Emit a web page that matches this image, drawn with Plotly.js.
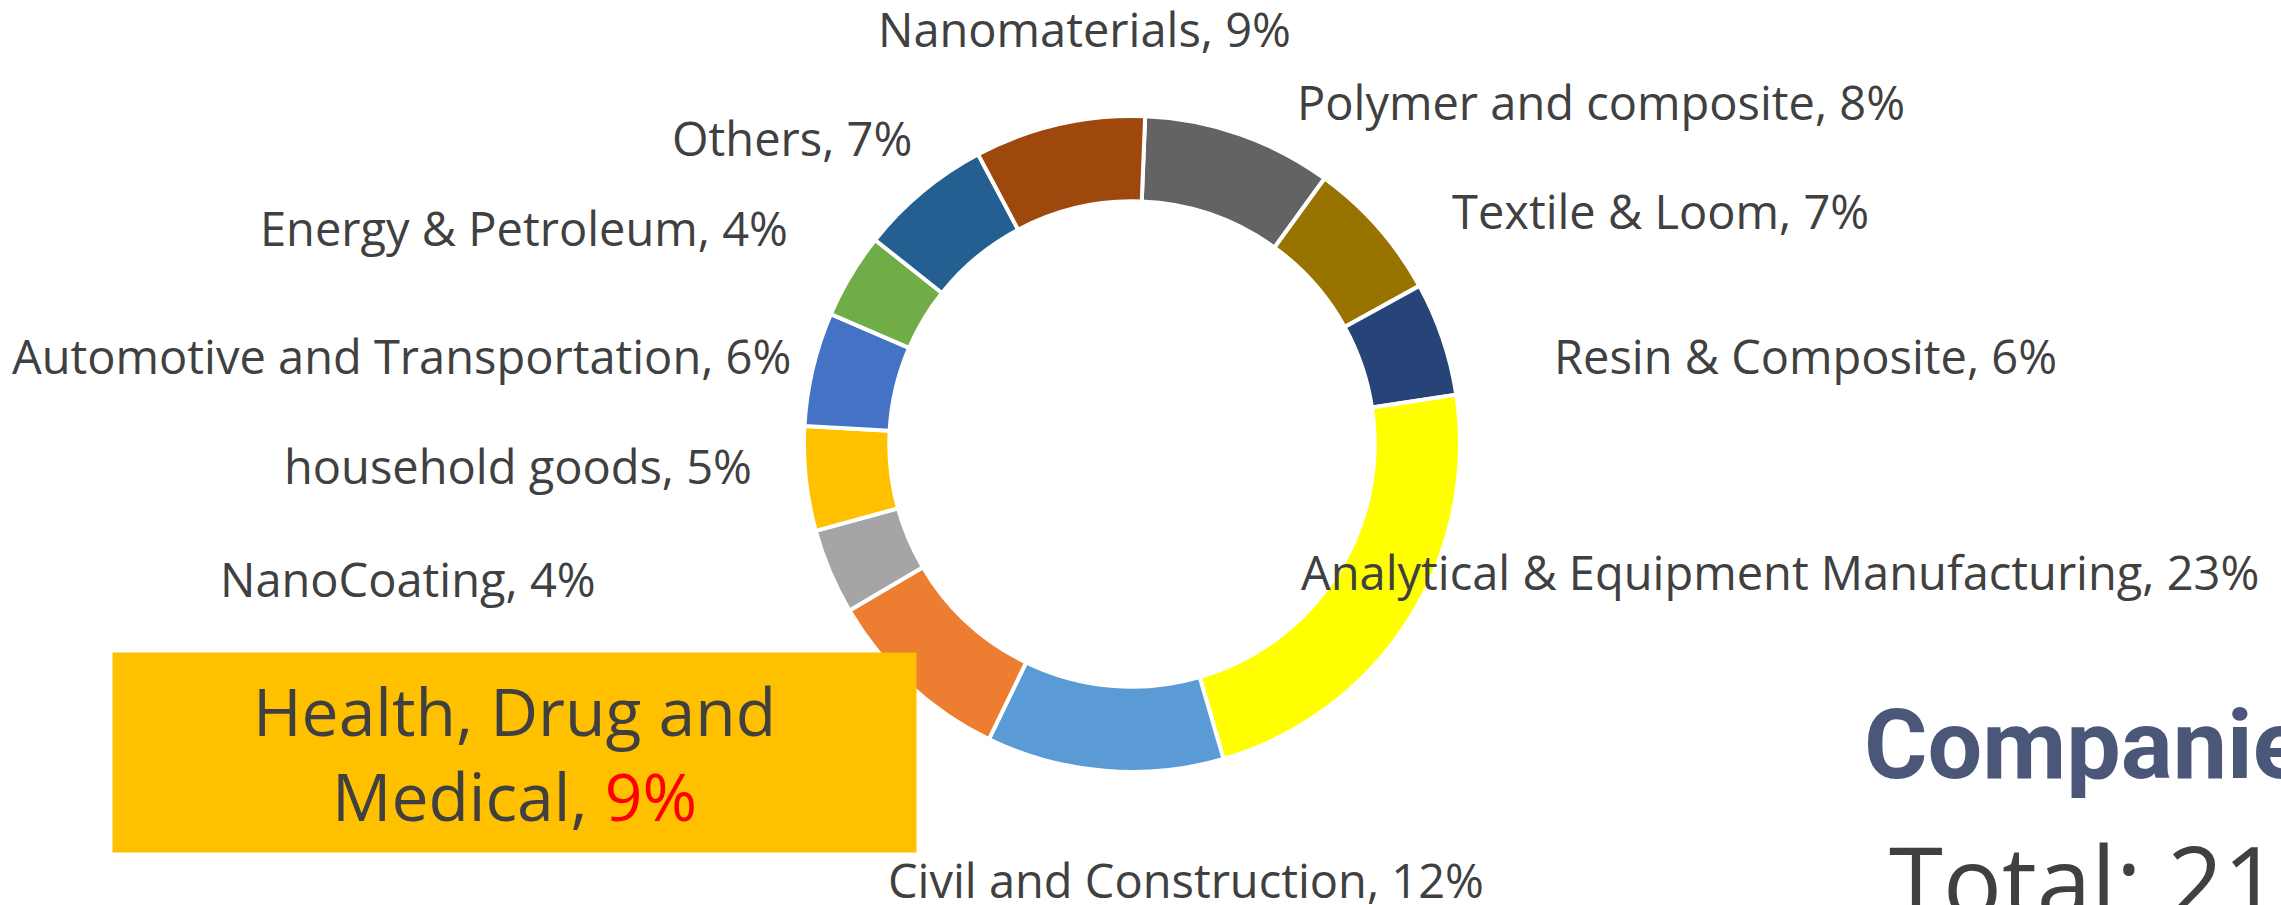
<!DOCTYPE html>
<html>
<head>
<meta charset="utf-8">
<script src="https://cdn.plot.ly/plotly-3.0.1.min.js"></script>
<style>
html,body{margin:0;padding:0;background:#fff;overflow:hidden;}
#chart{width:2281px;height:905px;}
</style>
</head>
<body>
<div id="chart"></div>
<script>
// ---- data ----
const categories = [
  "Polymer and composite",
  "Textile & Loom",
  "Resin & Composite",
  "Analytical & Equipment Manufacturing",
  "Civil and Construction",
  "Health, Drug and Medical",
  "NanoCoating",
  "household goods",
  "Automotive and Transportation",
  "Energy & Petroleum",
  "Others",
  "Nanomaterials"
];
// company counts (total 214)
const companies = [20, 15, 12, 49, 25, 20, 9, 11, 12, 9, 14, 18];
// percentages as printed on the chart's data labels
const shownPct = [8, 7, 6, 23, 12, 9, 4, 5, 6, 4, 7, 9];
const sliceColors = ["#636363","#997300","#264478","#FFFF00","#5B9BD5","#ED7D31",
                     "#A5A5A5","#FFC000","#4472C4","#70AD47","#255E91","#9E480E"];
const totalLabel = "Total: ";
const headerLabel = "Companies";

// ---- layout helpers (label placement, in page pixels) ----
const W = 2281, H = 905;
const labelPos = [
  [1601,102],[1660,211],[1805,356],[1780,572],[1186,880],[514,752],
  [408,579],[518,466],[401,356],[524,228],[792,138],[1084,29]
];
const px = x => x / W;
const py = y => (H - y) / H;

const total = companies.reduce((a,b)=>a+b,0);

const annotations = categories.map((c,i) => {
  if (i === 5) {
    const words = c.split(" and ");
    return {
      xref:'paper', yref:'paper', x:px(labelPos[i][0]), y:py(labelPos[i][1]),
      xanchor:'center', yanchor:'middle', showarrow:false,
      text: words[0] + " and<br>" + words[1] + ", <span style='color:#FF0000'>" + shownPct[i] + "%</span>",
      bgcolor:'#FFC000', width:803, height:199, borderpad:0,
      font:{family:'"Open Sans",sans-serif', size:66, color:'#404040'}
    };
  }
  return {
    xref:'paper', yref:'paper', x:px(labelPos[i][0]), y:py(labelPos[i][1]),
    xanchor:'center', yanchor:'middle', showarrow:false,
    text: c + ", " + shownPct[i] + "%",
    font:{family:'"Open Sans",sans-serif', size:47, color:'#404040'}
  };
});
annotations.push({
  xref:'paper', yref:'paper', x:px(1862), y:py(745), xanchor:'left', yanchor:'middle',
  showarrow:false, text:"<b>"+headerLabel+"</b>",
  font:{family:'Roboto,"Open Sans",sans-serif', size:97, color:'#4A5779'}
});
annotations.push({
  xref:'paper', yref:'paper', x:px(1887), y:py(880), xanchor:'left', yanchor:'middle',
  showarrow:false, text: totalLabel + total,
  font:{family:'"Open Sans",sans-serif', size:98, color:'#404040'}
});

const cx = 1132, cy = 444, R = 328;
const data = [{
  type:'pie',
  labels: categories,
  values: companies,
  sort:false,
  direction:'clockwise',
  rotation:2.3,
  hole:0.74,
  textinfo:'none',
  hoverinfo:'label+percent',
  marker:{colors:sliceColors, line:{color:'#FFFFFF', width:4}},
  domain:{x:[px(cx-R), px(cx+R)], y:[py(cy+R), py(cy-R)]}
}];

const layout = {
  width:W, height:H,
  margin:{l:0,r:0,t:0,b:0},
  paper_bgcolor:'#FFFFFF',
  showlegend:false,
  annotations: annotations
};

Plotly.newPlot('chart', data, layout, {staticPlot:true, displayModeBar:false});
</script>
</body>
</html>
